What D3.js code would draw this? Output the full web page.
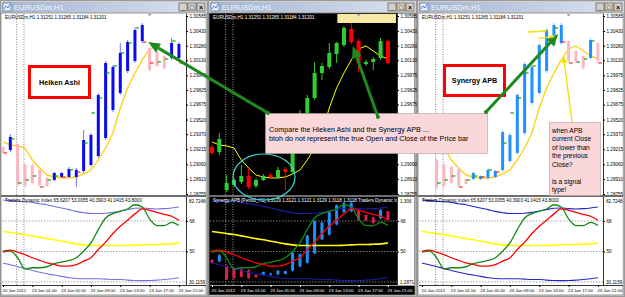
<!DOCTYPE html>
<html>
<head>
<meta charset="utf-8">
<script src="https://d3js.org/d3.v7.min.js"></script>
<style>
  body { margin: 0; background: #d4d0c8; overflow: hidden; }
  svg { display: block; font-family: "Liberation Sans", Arial, sans-serif; }
</style>
</head>
<body>
<div id="chart"></div>
<script>
// ---------- data ----------
const timeTickBars = [0, 4, 8, 12, 16, 20, 24]
const timeLabels = ["20 Jan 2012", "23 Jan 01:00", "23 Jan 05:00", "23 Jan 09:00", "23 Jan 13:00", "23 Jan 17:00", "23 Jan 21:00"]
const separatorBars = [2, 3]
const priceTicks = [1.30585, 1.30430, 1.30280, 1.30130, 1.29975, 1.29825, 1.29675, 1.29520, 1.29370, 1.29215, 1.29060, 1.28910, 1.28755]
const tdiLevels = [68, 50, 32]
const tdiLevelLabels = [68, 50]

// real H1 candles (middle window)
const candleOpen = [1.29238, 1.29187, 1.28796, 1.28848, 1.28879, 1.28940, 1.28837, 1.28899, 1.28950, 1.28930, 1.29012, 1.28981, 1.29279, 1.29588, 1.29742, 1.29999, 1.30061, 1.30194, 1.30287, 1.30451, 1.30328, 1.30092, 1.30112, 1.30153, 1.30328]
const candleHigh = [1.29259, 1.29382, 1.28950, 1.28920, 1.29053, 1.29022, 1.28920, 1.28961, 1.28971, 1.29033, 1.29033, 1.29310, 1.29619, 1.29773, 1.30112, 1.30102, 1.30307, 1.30318, 1.30482, 1.30513, 1.30349, 1.30133, 1.30164, 1.30359, 1.30338]
const candleLow = [1.29156, 1.29156, 1.28776, 1.28827, 1.28858, 1.28807, 1.28817, 1.28889, 1.28920, 1.28909, 1.28796, 1.28961, 1.29249, 1.29557, 1.29721, 1.29927, 1.30040, 1.30102, 1.30266, 1.30297, 1.30009, 1.30071, 1.30030, 1.30133, 1.30092]
const candleClose = [1.29177, 1.29321, 1.28868, 1.28899, 1.28940, 1.28827, 1.28899, 1.28940, 1.28930, 1.29002, 1.28981, 1.29279, 1.29588, 1.29742, 1.29999, 1.30071, 1.30205, 1.30307, 1.30462, 1.30318, 1.30102, 1.30112, 1.30143, 1.30328, 1.30102]

// Heiken Ashi bars (left window)
const haOpen = [1.29238, 1.29207, 1.29269, 1.29053, 1.29053, 1.29002, 1.28920, 1.28899, 1.28930, 1.28930, 1.28930, 1.28992, 1.29053, 1.29146, 1.29331, 1.29619, 1.29793, 1.30020, 1.30122, 1.30328, 1.30256, 1.30225, 1.30174, 1.30153, 1.30153]
const haHigh = [1.29249, 1.29372, 1.29290, 1.29074, 1.29074, 1.29022, 1.28930, 1.28981, 1.28981, 1.29033, 1.29022, 1.29413, 1.29382, 1.29793, 1.30122, 1.30081, 1.30307, 1.30338, 1.30462, 1.30513, 1.30266, 1.30235, 1.30184, 1.30359, 1.30318]
const haLow = [1.29177, 1.29187, 1.28827, 1.28817, 1.28848, 1.28827, 1.28827, 1.28889, 1.28920, 1.28920, 1.28827, 1.28971, 1.29033, 1.29125, 1.29310, 1.29598, 1.29773, 1.29999, 1.30102, 1.30307, 1.30009, 1.30061, 1.30030, 1.30133, 1.30133]
const haClose = [1.29177, 1.29341, 1.28848, 1.28837, 1.28868, 1.28848, 1.28837, 1.28971, 1.28971, 1.29012, 1.29002, 1.29310, 1.29362, 1.29773, 1.30102, 1.30061, 1.30205, 1.30318, 1.30441, 1.30492, 1.30030, 1.30071, 1.30050, 1.30307, 1.30297]

// Synergy APB bars (right window, and middle sub window)
const apbOpen = [1.29238, 1.29207, 1.29105, 1.29053, 1.29033, 1.29012, 1.28909, 1.28909, 1.28909, 1.28920, 1.28930, 1.29002, 1.29094, 1.29177, 1.29382, 1.29690, 1.29793, 1.30020, 1.30287, 1.30307, 1.30328, 1.30225, 1.30174, 1.30153, 1.30307]
const apbHigh = [1.29249, 1.29372, 1.29125, 1.29074, 1.29053, 1.29033, 1.28920, 1.28981, 1.28950, 1.29022, 1.29002, 1.29413, 1.29382, 1.29793, 1.30112, 1.30081, 1.30307, 1.30462, 1.30513, 1.30513, 1.30338, 1.30235, 1.30184, 1.30359, 1.30318]
const apbLow = [1.29177, 1.29187, 1.28796, 1.28817, 1.28848, 1.28817, 1.28848, 1.28899, 1.28899, 1.28899, 1.28920, 1.28981, 1.29074, 1.29156, 1.29362, 1.29670, 1.29773, 1.29999, 1.30266, 1.30287, 1.30102, 1.30102, 1.30030, 1.30133, 1.30102]
const apbClose = [1.29177, 1.29341, 1.28817, 1.28837, 1.28868, 1.28837, 1.28858, 1.28971, 1.28940, 1.29002, 1.28992, 1.29392, 1.29362, 1.29773, 1.30092, 1.30061, 1.30287, 1.30441, 1.30492, 1.30492, 1.30122, 1.30112, 1.30050, 1.30338, 1.30122]

// yellow moving average on the price charts
const maValues = [1.29290, 1.29259, 1.29249, 1.29228, 1.29105, 1.29022, 1.28950, 1.28930, 1.28920, 1.28920, 1.28930, 1.28961, 1.29002, 1.29105, 1.29228, 1.29382, 1.29639, 1.29845, 1.29999, 1.30133, 1.30246, 1.30277, 1.30225, 1.30174, 1.30143]

// Traders Dynamic Index
const tdiUpper = [80.4, 80.0, 79.6, 79.4, 79.0, 78.2, 77.6, 76.6, 75.7, 74.7, 73.7, 72.9, 72.4, 72.4, 72.6, 73.1, 73.9, 74.7, 75.5, 75.7, 75.3, 75.1, 75.3, 75.7, 76.3]
const tdiLower = [43.1, 42.2, 41.0, 40.0, 38.8, 37.8, 36.9, 36.1, 35.3, 34.5, 34.1, 33.9, 33.9, 33.9, 33.7, 33.5, 33.5, 33.1, 32.9, 32.8, 32.9, 33.1, 33.5, 33.9, 34.5]
const tdiMiddle = [61.8, 61.2, 60.6, 60.0, 59.2, 58.4, 57.6, 56.9, 56.1, 55.3, 54.5, 53.9, 53.5, 53.5, 53.5, 53.5, 53.5, 53.5, 53.7, 53.9, 54.1, 54.1, 54.3, 54.5, 55.1]
const tdiPrice = [49.6, 50.2, 46.3, 39.8, 40.4, 40.4, 41.0, 42.9, 43.7, 44.7, 46.3, 50.2, 55.1, 62.9, 69.8, 72.4, 73.7, 75.1, 77.6, 76.3, 69.2, 65.3, 65.3, 67.2, 65.3]
const tdiSignal = [50.2, 50.8, 49.6, 48.2, 46.3, 44.7, 43.3, 42.4, 41.4, 41.4, 42.2, 44.3, 46.3, 51.2, 55.5, 60.6, 64.9, 68.4, 72.2, 75.1, 74.3, 73.1, 71.9, 70.8, 68.4]

const mainHeader = "EURUSDm,H1  1.31251 1.31265 1.31184 1.31201"
const tdiHeader = "Traders Dynamic Index 65.6207 53.0055 40.3903 41.0415 43.8000"
const apbHeader = "Synergy APB [Period_H1] 1.3129 1.3121 1.3121 1.3129 1.3118 1.3118 Traders Dynamic Index"

// ---------- layout ----------
const width = 625, height = 297
const L = { mainTop: 14, mainBottom: 195, subTop: 197, subBottom: 285, clientBottom: 295 }
const barStep = 7.33

const windows = [
    { left: 0, width: 208, plotLeft: 2, plotRight: 186, firstBar: 3, dark: false, kind: "ha", band: "#7272e6", subTop: "82.7248", subBottom: "30.1159", subHeader: tdiHeader },
    { left: 208, width: 209, plotLeft: 210, plotRight: 397, firstBar: 212, dark: true, kind: "candle", band: "#1c1ca8", subTop: "1.306", subBottom: "1.2871", subHeader: apbHeader },
    { left: 417, width: 208, plotLeft: 419, plotRight: 603, firstBar: 422, dark: false, kind: "apb", band: "#2626c8", subTop: "82.7248", subBottom: "30.1159", subHeader: tdiHeader }
]

const svg = d3.select("#chart").append("svg")
    .attr("width", width)
    .attr("height", height)

const defs = svg.append("defs")
const grad = defs.append("linearGradient").attr("id", "titleGrad")
grad.append("stop").attr("offset", "0%").attr("stop-color", "#a3b5d2")
grad.append("stop").attr("offset", "100%").attr("stop-color", "#d9e2ef")

svg.append("rect").attr("width", width).attr("height", height).attr("fill", "#d4d0c8")

const yPrice = d3.scaleLinear().domain([1.28755, 1.30585]).range([194, 16])
const yTdi = d3.scaleLinear().domain([32, 68]).range([282, 221])
const ySubPrice = d3.scaleLinear().domain([1.28796, 1.30513]).range([280, 202])

function barTable(o, h, l, c) {
    return o.map((d, i) => ({ i: i, o: o[i], h: h[i], l: l[i], c: c[i] }))
}

function drawHist(g, x, y, rows, cls, up, down) {
    // MT4 style histogram bars: thin high-low line, thick open-close line
    g.selectAll("line." + cls + "w").data(rows).join("line")
        .attr("class", cls + "w")
        .attr("x1", d => x(d.i)).attr("x2", d => x(d.i))
        .attr("y1", d => y(d.h)).attr("y2", d => y(d.l))
        .attr("stroke", d => d.c >= d.o ? up.wick : down.wick)
        .attr("stroke-width", 1)
    g.selectAll("rect." + cls + "b").data(rows).join("rect")
        .attr("class", cls + "b")
        .attr("x", d => x(d.i) - 1.5).attr("width", 3)
        .attr("y", d => y(Math.max(d.o, d.c)))
        .attr("height", d => Math.max(1, Math.abs(y(d.o) - y(d.c))))
        .attr("fill", d => d.c >= d.o ? up.body : down.body)
}

function drawCandles(g, x, y, rows, cls, up, down, w) {
    g.selectAll("line." + cls + "w").data(rows).join("line")
        .attr("class", cls + "w")
        .attr("x1", d => x(d.i)).attr("x2", d => x(d.i))
        .attr("y1", d => y(d.h)).attr("y2", d => y(d.l))
        .attr("stroke", d => d.c >= d.o ? up : down)
    g.selectAll("rect." + cls + "b").data(rows).join("rect")
        .attr("class", cls + "b")
        .attr("x", d => x(d.i) - w / 2).attr("width", w)
        .attr("y", d => y(Math.max(d.o, d.c)))
        .attr("height", d => Math.max(1, Math.abs(y(d.o) - y(d.c))))
        .attr("fill", d => d.c >= d.o ? up : down)
}

const realBars = barTable(candleOpen, candleHigh, candleLow, candleClose)
const haBars = barTable(haOpen, haHigh, haLow, haClose)
const apbBars = barTable(apbOpen, apbHigh, apbLow, apbClose)

windows.forEach((w, k) => {
    const g = svg.append("g")
    const bg = w.dark ? "#000000" : "#ffffff"
    const fg = w.dark ? "#ffffff" : "#000000"
    const right = w.left + w.width

    // frame + title bar
    g.append("rect").attr("x", w.left + 0.5).attr("y", 0.5).attr("width", w.width - 1).attr("height", height - 1)
        .attr("fill", "#d4d0c8").attr("stroke", "#9a9a9a")
    g.append("rect").attr("x", w.left + 2).attr("y", 2).attr("width", w.width - 4).attr("height", 10)
        .attr("fill", "url(#titleGrad)")
    g.append("rect").attr("x", w.left + 3).attr("y", 3).attr("width", 8).attr("height", 8)
        .attr("fill", "#e8eef8").attr("stroke", "#6d86b0").attr("stroke-width", 0.8)
    g.append("path").attr("d", `M${w.left + 4},${9} L${w.left + 6},${6} L${w.left + 8},${8} L${w.left + 10},${4}`)
        .attr("fill", "none").attr("stroke", "#3366cc").attr("stroke-width", 0.8)
    g.append("text").attr("x", w.left + 14).attr("y", 10).attr("font-size", 7.5)
        .attr("fill", "#f4f7fb").text("EURUSDm,H1")
    const btns = ["_", "□", "×"]
    btns.forEach((b, j) => {
        const bx = right - 29 + j * 9
        g.append("rect").attr("x", bx).attr("y", 3).attr("width", 8).attr("height", 8)
            .attr("fill", "#d4d0c8").attr("stroke", "#404040").attr("stroke-width", 0.6)
        g.append("text").attr("x", bx + 4).attr("y", 10).attr("text-anchor", "middle")
            .attr("font-size", 7).attr("font-weight", "bold").attr("fill", "#000").text(b)
    })

    // client area
    g.append("rect").attr("x", w.plotLeft - 1).attr("y", 13).attr("width", right - 2 - w.plotLeft + 1).attr("height", L.clientBottom - 13)
        .attr("fill", bg).attr("stroke", "#808080").attr("stroke-width", 0.8)
    g.append("rect").attr("x", w.plotRight).attr("y", 13.5).attr("width", right - 2.5 - w.plotRight).attr("height", L.subBottom - 13.5)
        .attr("fill", "#ffffff")

    const x = d3.scaleLinear().domain([0, 24]).range([w.firstBar, w.firstBar + 24 * barStep])

    const clipMain = "clipMain" + k, clipSub = "clipSub" + k
    defs.append("clipPath").attr("id", clipMain).append("rect")
        .attr("x", w.plotLeft).attr("y", L.mainTop).attr("width", w.plotRight - w.plotLeft).attr("height", L.mainBottom - L.mainTop)
    defs.append("clipPath").attr("id", clipSub).append("rect")
        .attr("x", w.plotLeft).attr("y", L.subTop).attr("width", w.plotRight - w.plotLeft).attr("height", L.subBottom - L.subTop)

    // period separators (dotted verticals)
    g.selectAll("line.sep").data(separatorBars).join("line")
        .attr("class", "sep")
        .attr("x1", d => x(d) - 1).attr("x2", d => x(d) - 1)
        .attr("y1", L.mainTop).attr("y2", L.subBottom)
        .attr("stroke", w.dark ? "#c8c8c8" : "#606060").attr("stroke-width", 0.8)
        .attr("stroke-dasharray", "1,1.5")

    // ---- main chart ----
    const main = g.append("g").attr("clip-path", `url(#${clipMain})`)
    const maLine = d3.line().x((d, i) => x(i)).y(d => yPrice(d))
    main.append("path").datum(maValues).attr("d", maLine)
        .attr("fill", "none").attr("stroke", w.dark ? "#ffff00" : "#ffd21a").attr("stroke-width", w.dark ? 1 : 1.4)

    if (w.kind === "ha") {
        drawHist(main, x, yPrice, haBars, "ha", { body: "#0a0af0", wick: "#7070ff" }, { body: "#ffb4c2", wick: "#ffc6d0" })
    } else if (w.kind === "apb") {
        drawHist(main, x, yPrice, apbBars, "apb", { body: "#1e90ff", wick: "#8cc6ff" }, { body: "#ffb6c4", wick: "#ffccd6" })
    } else {
        drawCandles(main, x, yPrice, realBars, "rc", "#32cd32", "#ff0000", 4)
    }

    if (w.kind !== "candle") {
        // real close marks
        main.selectAll("line.close").data(realBars).join("line")
            .attr("class", "close")
            .attr("x1", d => x(d.i) + 0.5).attr("x2", d => x(d.i) + 4)
            .attr("y1", d => yPrice(d.c)).attr("y2", d => yPrice(d.c))
            .attr("stroke", d => d.c >= d.o ? "#12a012" : "#ff2020").attr("stroke-width", 1.2)
    }

    // price axis
    const pAxis = g.append("g").attr("transform", `translate(${w.plotRight},0)`)
        .call(d3.axisRight(yPrice).tickValues(priceTicks).tickFormat(d3.format(".5f")).tickSize(2).tickPadding(1.5))
    pAxis.select(".domain").remove()
    pAxis.attr("font-size", 4.6).attr("font-family", "Liberation Sans, Arial, sans-serif")
    pAxis.selectAll("text").attr("fill", "#000")
    pAxis.selectAll("line").attr("stroke", "#000")
    g.append("line").attr("x1", w.plotRight + 0.5).attr("x2", w.plotRight + 0.5).attr("y1", 13.5).attr("y2", L.subBottom)
        .attr("stroke", "#000").attr("stroke-width", 0.8)

    // main/sub separator
    g.append("rect").attr("x", w.plotLeft - 1).attr("y", L.mainBottom).attr("width", right - 2 - w.plotLeft + 1).attr("height", 2)
        .attr("fill", "#6e6e6e")

    // ---- sub window ----
    const sub = g.append("g").attr("clip-path", `url(#${clipSub})`)
    sub.selectAll("line.lvl").data(tdiLevels).join("line")
        .attr("class", "lvl")
        .attr("x1", w.plotLeft).attr("x2", w.plotRight)
        .attr("y1", d => yTdi(d)).attr("y2", d => yTdi(d))
        .attr("stroke", w.dark ? "#b0b0b0" : "#808080").attr("stroke-width", 0.7).attr("stroke-dasharray", "1.5,1.5")

    if (w.kind === "candle") {
        drawCandles(sub, x, ySubPrice, apbBars, "sa", "#1e90ff", "#e0204c", 3)
    }

    const tdiLine = d3.line().x((d, i) => x(i)).y(d => yTdi(d)).curve(d3.curveMonotoneX)
    const series = [
        { v: tdiUpper, c: w.band, sw: 1.1 },
        { v: tdiLower, c: w.band, sw: 1.1 },
        { v: tdiMiddle, c: "#ffff00", sw: 1.6 },
        { v: tdiPrice, c: "#138a13", sw: 1.3 },
        { v: tdiSignal, c: "#ff0000", sw: 1.3 }
    ]
    sub.selectAll("path.tdi").data(series).join("path")
        .attr("class", "tdi")
        .attr("d", d => tdiLine(d.v))
        .attr("fill", "none").attr("stroke", d => d.c).attr("stroke-width", d => d.sw)

    // sub axis labels
    const sAxis = g.append("g").attr("transform", `translate(${w.plotRight},0)`)
        .call(d3.axisRight(yTdi).tickValues(tdiLevelLabels).tickSize(2).tickPadding(1.5))
    sAxis.select(".domain").remove()
    sAxis.attr("font-size", 4.6).attr("font-family", "Liberation Sans, Arial, sans-serif")
    sAxis.selectAll("text").attr("fill", "#000")
    sAxis.selectAll("line").attr("stroke", "#000")
    g.append("text").attr("x", w.plotRight + 3).attr("y", L.subTop + 6).attr("font-size", 4.6).text(w.subTop)
    g.append("text").attr("x", w.plotRight + 3).attr("y", L.subBottom - 1).attr("font-size", 4.6).text(w.subBottom)

    // time axis
    g.append("line").attr("x1", w.plotLeft).attr("x2", right - 2).attr("y1", L.subBottom + 0.5).attr("y2", L.subBottom + 0.5)
        .attr("stroke", w.dark ? "#c0c0c0" : "#000").attr("stroke-width", 0.8)
    const tAxis = g.append("g").attr("transform", `translate(0,${L.subBottom})`)
        .call(d3.axisBottom(x).tickValues(timeTickBars).tickFormat((d, i) => timeLabels[i]).tickSize(2).tickPadding(1.5))
    tAxis.select(".domain").remove()
    tAxis.attr("font-size", 4.3).attr("font-family", "Liberation Sans, Arial, sans-serif")
    tAxis.selectAll("text").attr("fill", fg).attr("text-anchor", "start").attr("dx", -1)
    tAxis.selectAll("line").attr("stroke", fg)

    // headers, clipped to the plot like the terminal does
    g.append("text").attr("x", w.plotLeft + 3).attr("y", 19).attr("font-size", 4.6).attr("fill", fg)
        .attr("clip-path", `url(#${clipMain})`).text(mainHeader)
    g.append("text").attr("x", w.plotLeft + 3).attr("y", 202).attr("font-size", 4.6).attr("fill", fg)
        .attr("clip-path", `url(#${clipSub})`).text(w.subHeader)

    // chart shift marker
    const sx = x(20)
    if (w.kind === "candle") {
        g.append("rect").attr("x", x(17.1)).attr("y", 14).attr("width", x(25.1) - x(17.1)).attr("height", 9).attr("fill", "#f5e9a4")
    }
    g.append("path").attr("d", `M${sx - 2},14 L${sx + 2},14 L${sx},16.5 Z`).attr("fill", "#a0a0a0")
    w.x = x
})

// ---------- annotations ----------
const ann = svg.append("g")

function arrow(x1, y1, x2, y2, color, sw, headLen, headW, dot) {
    const a = Math.atan2(y2 - y1, x2 - x1)
    const bx = x2 - headLen * Math.cos(a), by = y2 - headLen * Math.sin(a)
    ann.append("line").attr("x1", x1).attr("y1", y1).attr("x2", bx).attr("y2", by)
        .attr("stroke", color).attr("stroke-width", sw)
    const px = -Math.sin(a) * headW / 2, py = Math.cos(a) * headW / 2
    ann.append("polygon").attr("points", `${x2},${y2} ${bx + px},${by + py} ${bx - px},${by - py}`).attr("fill", color)
    if (dot) ann.append("circle").attr("cx", x1).attr("cy", y1).attr("r", 2).attr("fill", color)
}

// cyan circle round the real candles
ann.append("ellipse").attr("cx", windows[1].x(7.1)).attr("cy", yPrice(1.28930)).attr("rx", 31).attr("ry", 23)
    .attr("fill", "none").attr("stroke", "#3fd8d0").attr("stroke-width", 1.2)

// red framed labels
function redBox(x0, y0, w, h, label) {
    ann.append("rect").attr("x", x0).attr("y", y0).attr("width", w).attr("height", h)
        .attr("fill", "#ffffff").attr("stroke", "#ff0000").attr("stroke-width", 3)
    ann.append("text").attr("x", x0 + w / 2).attr("y", y0 + h / 2 + 2.5).attr("text-anchor", "middle")
        .attr("font-size", 7.2).attr("font-weight", "bold").attr("fill", "#000").text(label)
}
redBox(29.5, 66.5, 60, 31, "Heiken Ashi")
redBox(444.5, 65.5, 60, 30, "Synergy APB")

// pink notes
function note(x0, y0, w, h, lines, fs, lh, tx, ty) {
    ann.append("rect").attr("x", x0).attr("y", y0).attr("width", w).attr("height", h)
        .attr("fill", "#f9d7da").attr("stroke", "#b0a0a0").attr("stroke-width", 0.6)
    ann.selectAll(null).data(lines).join("text")
        .attr("x", tx).attr("y", (d, i) => ty + i * lh)
        .attr("font-size", fs).attr("fill", "#000").text(d => d)
}
note(265.5, 113.5, 222, 40,
    ["Compare the Hieken Ashi and the Synergy APB ...", "btoh do not represent the true Open and Close of the Price bar"],
    7.2, 9, 269, 131.5)
note(549.5, 122.5, 51, 73,
    ["when APB", "current Close", "of lower than", "the previous", "Close?", "", "is a signal", "type!"],
    6.6, 8.45, 552, 133)

// arrows
const green = "#1d8a1d"
arrow(268, 113, windows[0].x(19.8), yPrice(1.30318), green, 3, 12, 10, true)
arrow(378, 117, windows[1].x(19.2), yPrice(1.30277), green, 3, 12, 10, true)
arrow(486, 112, windows[2].x(18.6), yPrice(1.30400), green, 3, 12, 10, true)
arrow(528, 32, windows[2].x(17.1), yPrice(1.30430), "#f0e000", 1.3, 4, 4, false)
arrow(539, 38.5, windows[2].x(18.2), yPrice(1.30380), "#f0e000", 1.3, 4, 4, false)
arrow(572, 122, windows[2].x(19.3), yPrice(1.30175), "#f0e000", 1.3, 7, 6, false)
</script>
</body>
</html>
